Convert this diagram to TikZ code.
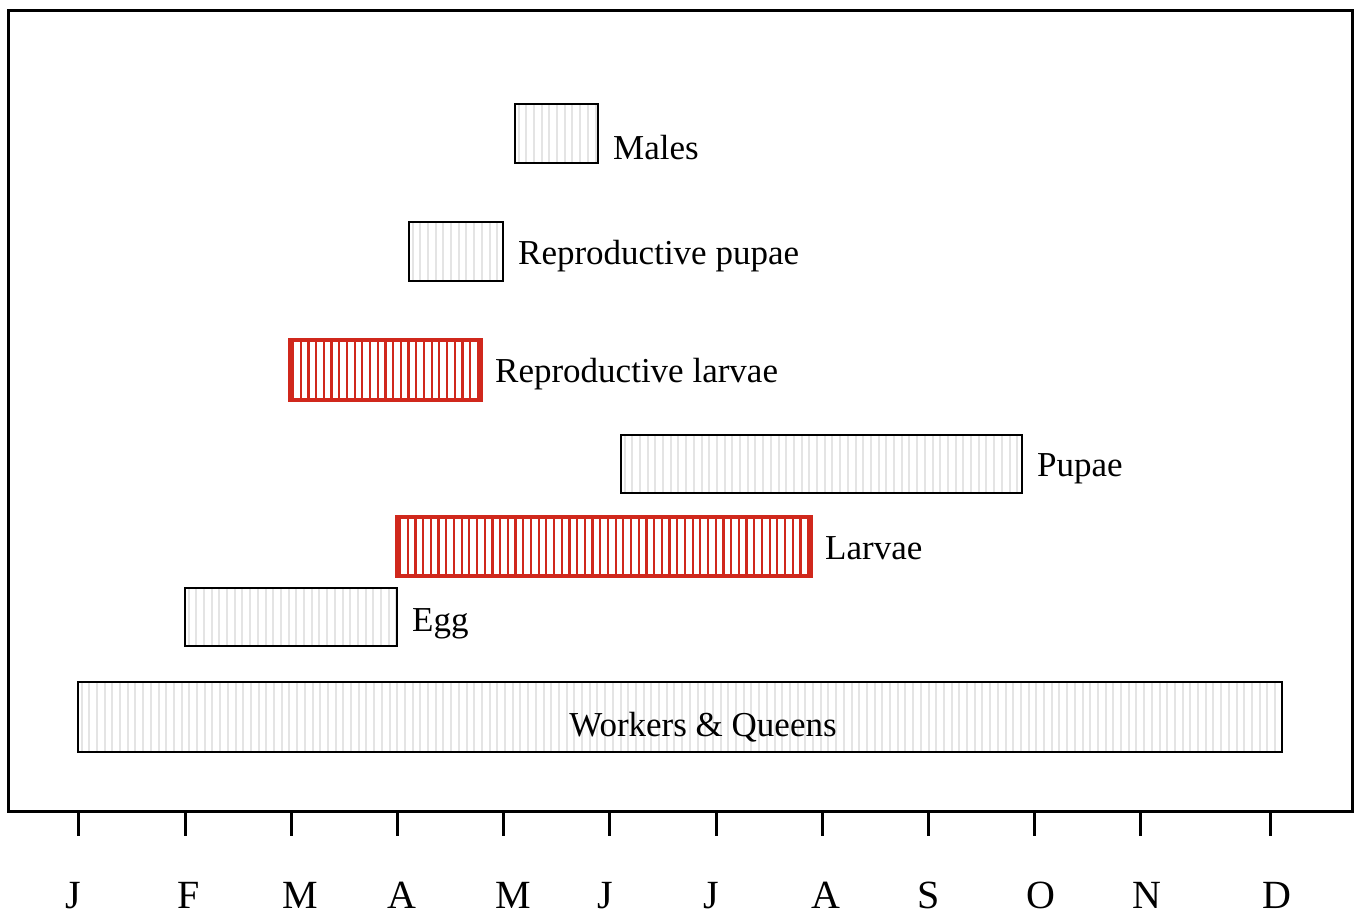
\documentclass[tikz,border=0pt]{standalone}
\usepackage{fontspec}
\setmainfont{Liberation Serif}
\definecolor{barred}{HTML}{D0281C}
\definecolor{stripegray}{HTML}{E4E4E4}
\begin{document}
\begin{tikzpicture}[x=1pt,y=-1pt,
  graybar/.style={draw=black,line width=1.4pt,inner sep=0pt,outer sep=0pt,fill=white,
    path picture={\foreach \s in {3.5,11.2,...,1210}
      \draw[stripegray,line width=2pt]
        ([xshift=\s pt]path picture bounding box.south west) --
        ([xshift=\s pt]path picture bounding box.north west);}},
  redbar/.style={draw=barred,line width=4.5pt,inner sep=0pt,outer sep=0pt,fill=white,
    path picture={\foreach \s in {3,10.7,...,420}
      \draw[barred,line width=2.2pt]
        ([xshift=\s pt]path picture bounding box.south west) --
        ([xshift=\s pt]path picture bounding box.north west);}},
  lbl/.style={font=\fontsize{35}{42}\selectfont,inner sep=0pt,anchor=base west},
  month/.style={font=\fontsize{40}{48}\selectfont,inner sep=0pt,anchor=base},
  frameline/.style={line width=3pt},
  tick/.style={line width=3pt}
]
\useasboundingbox (0,0) rectangle (1354,921);
% frame
\coordinate (ftl) at (8,10);
\coordinate (fbr) at (1352,811);
\draw[frameline] (ftl) rectangle (fbr);
% bars
\node[graybar,minimum width=83pt,minimum height=59pt] (males) at (556.5,133.5) {};
\node[graybar,minimum width=94pt,minimum height=59pt] (rpupae) at (456,251.5) {};
\node[redbar,minimum width=191pt,minimum height=60pt] (rlarvae) at (385.5,370) {};
\node[graybar,minimum width=401pt,minimum height=58pt] (pupae) at (821.5,464) {};
\node[redbar,minimum width=414pt,minimum height=59pt] (larvae) at (604,546.5) {};
\node[graybar,minimum width=212pt,minimum height=58pt] (egg) at (291,617) {};
\node[graybar,minimum width=1204pt,minimum height=70pt] (wq) at (680,717) {};
% labels
\node[lbl] (lmales) at (613,159) {Males};
\node[lbl] (lrpupae) at (518,264) {Reproductive pupae};
\node[lbl] (lrlarvae) at (495,382) {Reproductive larvae};
\node[lbl] (lpupae) at (1037,476) {Pupae};
\node[lbl] (llarvae) at (825,559) {Larvae};
\node[lbl] (legg) at (412,631) {Egg};
\node[lbl,anchor=base] (lwq) at (703,736) {Workers \& Queens};
% ticks and months
\foreach \tx/\lx/\m [count=\i] in {78/73/J,185/189/F,291/300/M,397/402/A,503/513/M,609/605/J,716/711/J,822/826/A,928/929/S,1034/1041/O,1140/1147/N,1270/1277/D}{
  \coordinate (t\i a) at (\tx,811);
  \coordinate (t\i b) at (\tx,836);
  \draw[tick] (t\i a) -- (t\i b);
  \node[month] (m\i) at (\lx,908) {\m};
}
\end{tikzpicture}
\end{document}
